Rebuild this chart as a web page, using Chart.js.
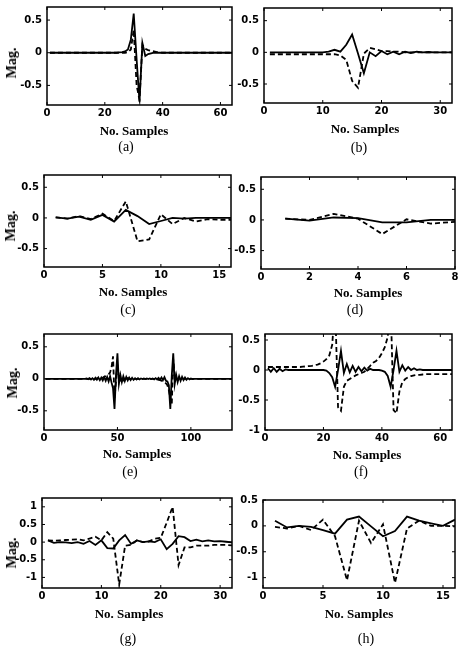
<!DOCTYPE html>
<html>
<head>
<meta charset="utf-8">
<script src="https://cdn.jsdelivr.net/npm/chart.js"></script>
<style>
  html, body { margin: 0; padding: 0; background: #fff; }
  #fig { position: relative; width: 458px; height: 646px; overflow: hidden; background: #fff; }
  #fig canvas { position: absolute; }
  .lbl { position: absolute; transform: translate(-50%, -50%); white-space: nowrap;
         font-family: 'Liberation Serif', 'Times New Roman', serif; color: #000; line-height: 1; }
  .xt { font-weight: bold; font-size: 13px; }
  .yt { font-weight: bold; font-size: 14px; transform: translate(-50%, -50%) rotate(-90deg); }
  .cap { font-size: 14px; }
</style>
</head>
<body>
<div id="fig"></div>
<script>
// (a) 64 samples
const aSolid = [
  0, 0, 0, 0, 0, 0, 0, 0, 0, 0,
  0, 0, 0, 0, 0, 0, 0, 0, 0, 0,
  0, 0, 0, 0, 0.005, 0.01, 0.02, 0.05, 0.2, 0.6,
  -0.1, -0.75, 0.15, -0.05, -0.02, -0.01, 0, 0, 0, 0,
  0, 0, 0, 0, 0, 0, 0, 0, 0, 0,
  0, 0, 0, 0, 0, 0, 0, 0, 0, 0,
  0, 0, 0, 0
];
const aDashed = [
  0, 0, 0, 0, 0, 0, 0, 0, 0, 0,
  0, 0, 0, 0, 0, 0, 0, 0, 0, 0,
  0, 0, 0, 0, 0, 0, 0, 0.01, 0.05, 0.35,
  -0.5, -0.72, 0.12, 0.06, 0.04, 0.03, 0.02, 0.01, 0.005, 0,
  0, 0, 0, 0, 0, 0, 0, 0, 0, 0,
  0, 0, 0, 0, 0, 0, 0, 0, 0, 0,
  0, 0, 0, 0
];

// (b) 32 samples
const bSolid = [
  0, 0, 0, 0, 0, 0, 0, 0, 0, 0,
  0.01, 0.04, 0.01, 0.12, 0.28, -0.02, -0.33, 0, -0.06, 0.02,
  -0.03, 0.01, -0.03, 0.01, -0.01, 0.01, 0, 0.005, 0, 0,
  0, 0
];
const bDashed = [
  -0.03, -0.03, -0.03, -0.03, -0.03, -0.03, -0.03, -0.03, -0.03, -0.03,
  -0.03, -0.03, -0.05, -0.12, -0.45, -0.56, -0.02, 0.07, 0.05, 0.02,
  0.02, 0.01, 0.01, 0, 0, 0, 0, 0, 0, 0,
  0, 0
];

// (c) 16 samples
const cSolid = [0.01, -0.01, 0.02, -0.03, 0.05, -0.06, 0.13, 0.03, -0.1, -0.05, 0, -0.01, 0, 0, 0, 0];
const cDashed = [0.01, -0.01, 0.03, -0.02, 0.07, -0.05, 0.27, -0.38, -0.35, 0.06, -0.1, 0, -0.06, -0.02, -0.03, -0.03];

// (d) 8 samples
const dSolid = [0.02, -0.01, 0.04, 0.03, -0.04, -0.04, 0, 0];
const dDashed = [0.02, 0, 0.1, 0.02, -0.23, 0.01, -0.06, -0.03];

// (e) 128 samples
const eSolid = [
  0, 0, 0, 0, 0, 0, 0, 0, 0, 0,
  0, 0, 0, 0, 0, 0, 0, 0, 0, 0,
  0, 0, 0, 0, 0, 0, 0, 0, 0.005, -0.005,
  0.01, -0.01, 0.01, -0.015, 0.015, -0.015, 0.02, -0.02, 0.02, -0.025,
  0.025, -0.03, 0.03, -0.04, 0.04, -0.06, -0.15, -0.47, 0.05, 0.4,
  -0.08, 0.06, -0.05, 0.04, -0.035, 0.03, -0.025, 0.02, -0.02, 0.015,
  -0.015, 0.01, -0.01, 0.01, -0.01, 0.005, -0.005, 0.005, -0.005, 0.005,
  -0.005, 0.005, -0.005, 0.005, -0.01, 0.01, -0.01, 0.015, -0.015, 0.02,
  -0.02, 0.025, -0.03, -0.04, -0.1, -0.47, 0.05, 0.4, -0.08, 0.06,
  -0.05, 0.04, -0.03, 0.03, -0.02, 0.02, -0.015, 0.01, -0.01, 0.005,
  -0.005, 0, 0, 0, 0, 0, 0, 0, 0, 0,
  0, 0, 0, 0, 0, 0, 0, 0, 0, 0,
  0, 0, 0, 0, 0, 0, 0, 0
];
const eDashed = [
  0, 0, 0, 0, 0, 0, 0, 0, 0, 0,
  0, 0, 0, 0, 0, 0, 0, 0, 0, 0,
  0, 0, 0, 0, 0, 0, 0, 0, 0, 0,
  0, 0, 0, 0, 0, 0.005, 0.01, 0.01, 0.015, 0.02,
  0.03, 0.04, 0.05, 0.07, 0.1, 0.18, 0.35, -0.3, -0.05, 0.2,
  0.02, -0.02, 0.03, -0.02, 0.02, -0.01, 0.01, 0, 0, 0,
  0, 0, 0, 0, 0, 0, 0, 0, 0, 0,
  0, 0, 0, 0, 0, -0.01, -0.01, -0.015, -0.02, -0.03,
  -0.04, -0.05, -0.07, -0.1, -0.18, -0.3, -0.4, 0.3, 0.05, 0.02,
  -0.02, 0.02, -0.01, 0.01, 0, 0, 0, 0, 0, 0,
  0, 0, 0, 0, 0, 0, 0, 0, 0, 0,
  0, 0, 0, 0, 0, 0, 0, 0, 0, 0,
  0, 0, 0, 0, 0, 0, 0, 0
];

// (f) 64 samples
const fSolid = [
  0.03, -0.03, 0.03, -0.03, 0.02, -0.02, 0.01, 0, 0, 0,
  0, 0, 0, 0, 0, 0, 0, 0, 0, 0,
  -0.01, -0.05, -0.12, -0.28, 0, 0.32, -0.05, 0.1, -0.04, 0.07,
  -0.03, 0.05, -0.02, 0.04, -0.01, 0.02, 0, 0, 0, -0.01,
  -0.03, -0.1, -0.28, 0, 0.32, -0.03, 0.08, -0.01, 0.05, 0,
  0.03, 0, 0.01, 0, 0, 0, 0, 0, 0, 0,
  0, 0, 0, 0
];
const fDashed = [
  0.05, 0.05, 0.05, 0.05, 0.05, 0.05, 0.05, 0.05, 0.05, 0.05,
  0.05, 0.05, 0.055, 0.06, 0.065, 0.07, 0.08, 0.09, 0.11, 0.14,
  0.18, 0.24, 0.42, 1.1, -0.62, -0.68, -0.28, -0.18, -0.15, -0.12,
  -0.09, -0.07, -0.05, -0.03, 0.02, 0.07, 0.12, 0.15, 0.2, 0.28,
  0.38, 0.55, 1.1, -0.67, -0.72, -0.36, -0.2, -0.15, -0.12, -0.1,
  -0.09, -0.08, -0.08, -0.075, -0.07, -0.07, -0.07, -0.07, -0.07, -0.07,
  -0.07, -0.07, -0.07, -0.07
];

// (g) 32 samples
const gSolid = [
  0.05, -0.02, 0, -0.01, -0.03, 0, -0.05, 0.03, -0.08, 0.05,
  -0.17, -0.18, 0.05, 0.2, -0.05, 0.05, 0, 0.02, 0, 0.08,
  -0.2, -0.05, 0.17, 0.14, 0.03, 0.07, 0.02, 0.05, 0.02, 0.03,
  0.01, -0.01
];
const gDashed = [
  0.05, 0.04, 0.05, 0.06, 0.07, 0.08, 0.05, 0.1, 0.15, 0.05,
  0.28, 0.1, -1.2, -0.1, -0.08, 0.05, 0, 0.02, 0.1, 0.12,
  0.55, 1.0, -0.65, -0.15, -0.15, -0.1, -0.1, -0.1, -0.08, -0.08,
  -0.08, -0.09
];

// (h) 16 samples
const hSolid = [0.1, -0.03, 0, -0.02, -0.08, -0.15, 0.12, 0.18, -0.01, -0.2, -0.1, 0.18, 0.1, 0.05, 0, 0.12];
const hDashed = [-0.02, -0.05, 0, -0.08, 0.12, -0.2, -1.05, 0.1, -0.33, 0.03, -1.1, -0.05, 0.1, 0, 0, -0.01];

// tick values
const xTicks64 = [0, 20, 40, 60];
const xTicks32 = [0, 10, 20, 30];
const xTicks16 = [0, 5, 10, 15];
const xTicks8 = [0, 2, 4, 6, 8];
const xTicks128 = [0, 50, 100];
const yTicksStd = [-0.5, 0, 0.5];
const yTicksF = [-1, -0.5, 0, 0.5];
const yTicksG = [-1, -0.5, 0, 0.5, 1];
const yTicksH = [-1, -0.5, 0, 0.5];

const captions = ['(a)', '(b)', '(c)', '(d)', '(e)', '(f)', '(g)', '(h)'];

const samples = n => Array.from({ length: n }, (_, i) => i + 1);

// plot box = [left, top, right, bottom] in page pixels
const panels = [
  { solid: aSolid, dashed: aDashed, xMax: 64, xTicks: xTicks64, yMin: -0.8, yMax: 0.7, yTicks: yTicksStd, box: [47, 2, 232, 105], xt: [134, 130], cap: [126, 147], mag: [12, 63] },
  { solid: bSolid, dashed: bDashed, xMax: 32, xTicks: xTicks32, yMin: -0.8, yMax: 0.7, yTicks: yTicksStd, box: [264, 3, 452, 103], xt: [365, 128], cap: [359, 148] },
  { solid: cSolid, dashed: cDashed, xMax: 16, xTicks: xTicks16, yMin: -0.8, yMax: 0.7, yTicks: yTicksStd, box: [44, 170, 231, 267], xt: [133, 291], cap: [128, 310], mag: [11, 226] },
  { solid: dSolid, dashed: dDashed, xMax: 8, xTicks: xTicks8, yMin: -0.8, yMax: 0.7, yTicks: yTicksStd, box: [261, 172, 455, 269], xt: [368, 292], cap: [355, 310] },
  { solid: eSolid, dashed: eDashed, xMax: 128, xTicks: xTicks128, yMin: -0.8, yMax: 0.7, yTicks: yTicksStd, box: [44, 329, 232, 430], xt: [137, 453], cap: [130, 472], mag: [13, 383] },
  { solid: fSolid, dashed: fDashed, xMax: 64, xTicks: xTicks64, yMin: -1, yMax: 0.6, yTicks: yTicksF, box: [265, 329, 452, 430], xt: [367, 454], cap: [361, 472] },
  { solid: gSolid, dashed: gDashed, xMax: 32, xTicks: xTicks32, yMin: -1.3, yMax: 1.25, yTicks: yTicksG, box: [42, 493, 232, 588], xt: [129, 613], cap: [128, 639], mag: [12, 553] },
  { solid: hSolid, dashed: hDashed, xMax: 16, xTicks: xTicks16, yMin: -1.2, yMax: 0.5, yTicks: yTicksH, box: [263, 495, 455, 588], xt: [359, 613], cap: [366, 639] }
];

const tickFont = { family: "'DejaVu Sans', sans-serif", size: 10, weight: 'bold' };
const AXIS_W = 40, AXIS_H = 20, PAD_T = 6, PAD_R = 12;

const frame = {
  id: 'frame',
  afterDatasetsDraw(chart) {
    const { ctx, chartArea: a, scales: { x, y } } = chart;
    ctx.save();
    ctx.strokeStyle = '#000';
    ctx.lineWidth = 1.5;
    ctx.strokeRect(a.left, a.top, a.right - a.left, a.bottom - a.top);
    ctx.lineWidth = 1;
    ctx.beginPath();
    x.ticks.forEach(t => {
      const px = x.getPixelForValue(t.value);
      ctx.moveTo(px, a.bottom); ctx.lineTo(px, a.bottom - 3);
      ctx.moveTo(px, a.top); ctx.lineTo(px, a.top + 3);
    });
    y.ticks.forEach(t => {
      const py = y.getPixelForValue(t.value);
      ctx.moveTo(a.left, py); ctx.lineTo(a.left + 3, py);
      ctx.moveTo(a.right, py); ctx.lineTo(a.right - 3, py);
    });
    ctx.stroke();
    ctx.restore();
  }
};

const fig = document.getElementById('fig');

function addLabel(text, pos, cls) {
  const d = document.createElement('div');
  d.className = 'lbl ' + cls;
  d.textContent = text;
  d.style.left = pos[0] + 'px';
  d.style.top = pos[1] + 'px';
  fig.appendChild(d);
}

panels.forEach((p, i) => {
  const [l, t, r, b] = p.box;
  const canvas = document.createElement('canvas');
  canvas.width = r - l + AXIS_W + PAD_R;
  canvas.height = b - t + PAD_T + AXIS_H;
  canvas.style.left = (l - AXIS_W) + 'px';
  canvas.style.top = (t - PAD_T) + 'px';
  fig.appendChild(canvas);

  new Chart(canvas, {
    type: 'line',
    data: {
      labels: samples(p.solid.length),
      datasets: [
        { data: p.solid, borderColor: '#000', borderWidth: 1.8, pointRadius: 0, tension: 0 },
        { data: p.dashed, borderColor: '#000', borderWidth: 1.8, borderDash: [5, 3], pointRadius: 0, tension: 0 }
      ]
    },
    options: {
      responsive: false,
      animation: false,
      devicePixelRatio: 1,
      layout: { padding: { top: PAD_T, right: PAD_R, left: 0, bottom: 0 } },
      plugins: { legend: { display: false }, tooltip: { enabled: false } },
      scales: {
        x: {
          type: 'linear', min: 0, max: p.xMax,
          grid: { display: false, drawTicks: false },
          border: { display: false },
          afterBuildTicks: s => { s.ticks = p.xTicks.map(v => ({ value: v })); },
          afterFit: s => { s.height = AXIS_H; },
          ticks: { padding: 2, font: tickFont, color: '#000', maxRotation: 0, autoSkip: false, callback: v => String(v) }
        },
        y: {
          type: 'linear', min: p.yMin, max: p.yMax,
          grid: { display: false, drawTicks: false },
          border: { display: false },
          afterBuildTicks: s => { s.ticks = p.yTicks.map(v => ({ value: v })); },
          afterFit: s => { s.width = AXIS_W; },
          ticks: { padding: 5, font: tickFont, color: '#000', autoSkip: false, callback: v => String(v) }
        }
      }
    },
    plugins: [frame]
  });

  addLabel('No. Samples', p.xt, 'xt');
  addLabel(captions[i], p.cap, 'cap');
  if (p.mag) addLabel('Mag.', p.mag, 'yt');
});
</script>
</body>
</html>
